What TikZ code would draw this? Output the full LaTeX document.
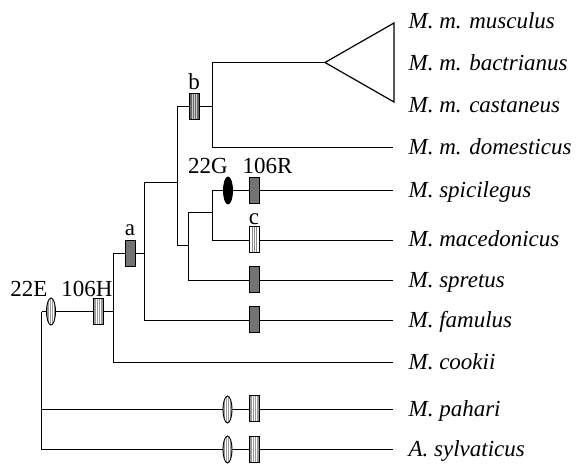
\documentclass[tikz,border=0pt]{standalone}
\usepackage{fontspec}
\setmainfont{Liberation Serif}
\usetikzlibrary{shapes.geometric}

\begin{document}
\begin{tikzpicture}[
  x=1pt, y=-1pt, line width=1.2pt,
  every node/.style={font=\fontsize{23}{26}\selectfont},
  taxon/.style={anchor=base west, inner sep=0pt, font=\fontsize{23}{26}\selectfont\itshape},
  tag/.style={anchor=base, inner sep=0pt},
  stripes/.style={path picture={
      \foreach \dx in {-2,0,2}
        \draw[line width=0.8pt, #1] ([xshift=\dx pt]path picture bounding box.south)
          -- ([xshift=\dx pt]path picture bounding box.north);}},
  bar/.style={draw, rectangle, minimum width=10pt, minimum height=26pt,
              inner sep=0pt, line width=0.9pt},
  solidbar/.style={bar, fill=black!55},
  lightbar/.style={bar, fill=black!40, stripes=white},
  darkbar/.style={bar, fill=black!60, stripes=black!20},
  whitebar/.style={bar, fill=white, stripes=black!45},
  oval/.style={draw, ellipse, minimum width=9pt, minimum height=27pt,
               inner sep=0pt, line width=0.9pt},
  stripeoval/.style={oval, fill=black!40, stripes=white},
  blackoval/.style={oval, fill=black},
]
  \useasboundingbox (0,0) rectangle (578,463);

  % junctions
  \coordinate (root) at (41.5,311.5);
  \coordinate (n1) at (113.5,311.5);
  \coordinate (n2) at (144.5,253.5);
  \coordinate (n3) at (177.5,182.5);
  \coordinate (n4) at (212.5,106.5);
  \coordinate (n5) at (188.5,245.5);
  \coordinate (n6) at (212.5,212.5);

  % tips
  \coordinate (tMus) at (325,62.5);
  \coordinate (triTop) at (394,23);
  \coordinate (triBot) at (394,102);
  \coordinate (tDom) at (393,147.5);
  \coordinate (tSpi) at (393,190.5);
  \coordinate (tMac) at (393,240.5);
  \coordinate (tSpr) at (393,280.5);
  \coordinate (tFam) at (393,320.5);
  \coordinate (tCoo) at (393,362.5);
  \coordinate (tPah) at (393,409.5);
  \coordinate (tSyl) at (393,449.5);

  % branches
  \draw (root) -- (n1);
  \draw (root) |- (tPah);
  \draw (root) |- (tSyl);
  \draw (n1) |- (n2);
  \draw (n1) |- (tCoo);
  \draw (n2) |- (n3);
  \draw (n2) |- (tFam);
  \draw (n3) |- (n4);
  \draw (n3) |- (n5);
  \draw (n4) |- (tMus);
  \draw (n4) |- (tDom);
  \draw (n5) |- (n6);
  \draw (n5) |- (tSpr);
  \draw (n6) |- (tSpi);
  \draw (n6) |- (tMac);
  \draw[line join=miter] (tMus) -- (triTop) -- (triBot) -- cycle;

  % character changes
  \node[stripeoval] (o22E) at (51,311.5) {};
  \node[lightbar] (b106H) at (98,311.5) {};
  \node[solidbar] (ba) at (130,253.5) {};
  \node[darkbar] (bb) at (194,106.5) {};
  \node[blackoval] (o22G) at (228,190.5) {};
  \node[solidbar] (b106R) at (254,190.5) {};
  \node[whitebar] (bc) at (254,239.5) {};
  \node[solidbar] (bSpr) at (254,279.5) {};
  \node[solidbar] (bFam) at (254,319) {};
  \node[stripeoval] (oPah) at (227.5,409.5) {};
  \node[lightbar] (bPah) at (254,408.5) {};
  \node[stripeoval] (oSyl) at (227.5,449.5) {};
  \node[lightbar] (bSyl) at (254,449) {};

  % labels
  \node[tag] (l22E) at (29,296.7) {22E};
  \node[tag] (l106H) at (87,296.7) {106H};
  \node[tag] (la) at (130,235.7) {a};
  \node[tag] (lb) at (194,89.3) {b};
  \node[tag] (l22G) at (208,173) {22G};
  \node[tag] (l106R) at (267.5,173) {106R};
  \node[tag] (lc) at (254,224) {c};

  % taxa
  \node[taxon] (sMus) at (408,28.5) {M. m. musculus};
  \node[taxon] (sBac) at (408,70.5) {M. m. bactrianus};
  \node[taxon] (sCas) at (408,112.5) {M. m. castaneus};
  \node[taxon] (sDom) at (408,154.5) {M. m. domesticus};
  \node[taxon] (sSpi) at (408,197.5) {M. spicilegus};
  \node[taxon] (sMac) at (408,246.5) {M. macedonicus};
  \node[taxon] (sSpr) at (408,287) {M. spretus};
  \node[taxon] (sFam) at (408,327) {M. famulus};
  \node[taxon] (sCoo) at (408,369) {M. cookii};
  \node[taxon] (sPah) at (408,416.5) {M. pahari};
  \node[taxon] (sSyl) at (408,456) {A. sylvaticus};
\end{tikzpicture}
\end{document}
